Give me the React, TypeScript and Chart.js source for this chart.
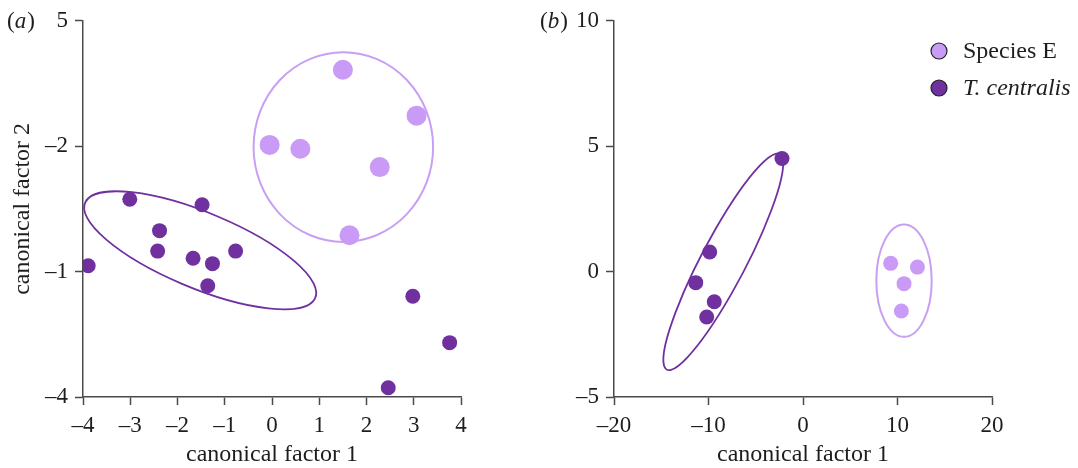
import React, { useEffect, useRef } from 'react';
import { Chart, registerables } from 'chart.js';

Chart.register(...registerables);

const FONT = "'Liberation Serif', 'Times New Roman', serif";
const DARK = '#7030a0';
const LIGHT = '#c99af6';
const LIGHT_LINE = '#c7a0f3';
const AXIS = '#4a4a4a';
const TEXT = '#1e1e1e';

// ---------- Panel (a) ----------
const aSpeciesEX = [1.50, 3.06, -0.05, 0.60, 2.28, 1.64];
const aSpeciesEY = [3.83, 2.73, 2.03, 1.94, 1.50, -0.13];
const aCentralisX = [-3.01, -1.48, -2.38, -2.42, -1.67, -1.26, -0.77, -1.36, -3.89, 2.98, 3.76, 2.46];
const aCentralisY = [0.73, 0.60, -0.02, -0.51, -0.68, -0.81, -0.51, -1.34, -0.86, -1.59, -2.70, -3.78];
const aXTicks = [-4, -3, -2, -1, 0, 1, 2, 3, 4];
const aXTickLabels = ['–4', '–3', '–2', '–1', '0', '1', '2', '3', '4'];
const aYTicks = [-4, -1, 2, 5];
const aYTickLabels = ['–4', '–1', '–2', '5'];
// ellipse: [centre x, centre y, semi-axis a, semi-axis b, angle (deg)]
const aEllipseSpeciesE = [1.51, 1.98, 1.90, 2.27, 0];
const aEllipseCentralis = [-1.52, -0.49, 2.69, 0.89, -25.6];

// ---------- Panel (b) ----------
const bSpeciesEX = [9.28, 12.11, 10.69, 10.41];
const bSpeciesEY = [0.33, 0.18, -0.48, -1.57];
const bCentralisX = [-2.22, -9.87, -11.35, -9.39, -10.19];
const bCentralisY = [4.51, 0.78, -0.44, -1.20, -1.81];
const bXTicks = [-20, -10, 0, 10, 20];
const bXTickLabels = ['–20', '–10', '0', '10', '20'];
const bYTicks = [-5, 0, 5, 10];
const bYTickLabels = ['–5', '0', '5', '10'];
const bEllipseSpeciesE = [10.69, -0.36, 2.93, 2.24, 0];
const bEllipseCentralis = [-8.44, 0.39, 7.51, 1.54, 33.3];

const legendLabels = ['Species E', 'T. centralis'];

const toPts = (xs: number[], ys: number[]) => xs.map((x, i) => ({ x, y: ys[i] }));

const ellipsePlugin = {
  id: 'ellipses',
  beforeDatasetsDraw(chart: any, _args: any, opts: any) {
    const { ctx } = chart;
    const xs = chart.scales.x;
    const ys = chart.scales.y;
    (opts.items || []).forEach((it: any) => {
      const [cx, cy, ra, rb, ang] = it.params;
      const px = xs.getPixelForValue(cx);
      const py = ys.getPixelForValue(cy);
      const sx = xs.getPixelForValue(cx + 1) - px;
      const sy = py - ys.getPixelForValue(cy + 1);
      ctx.save();
      ctx.translate(px, py);
      ctx.scale(sx, -sy);
      ctx.rotate((ang * Math.PI) / 180);
      ctx.beginPath();
      ctx.ellipse(0, 0, ra, rb, 0, 0, Math.PI * 2);
      ctx.restore();
      ctx.save();
      ctx.strokeStyle = it.color;
      ctx.lineWidth = it.width;
      ctx.stroke();
      ctx.restore();
    });
  },
};

const textPlugin = {
  id: 'panelText',
  afterDraw(chart: any, _args: any, opts: any) {
    const { ctx } = chart;
    ctx.save();
    ctx.fillStyle = TEXT;
    ctx.textBaseline = 'alphabetic';
    if (opts.letter) {
      let x = opts.letterX;
      const y = opts.letterY;
      const normal = `23px ${FONT}`;
      const italic = `italic 23px ${FONT}`;
      ctx.textAlign = 'left';
      ctx.font = normal;
      ctx.fillText('(', x, y);
      x += ctx.measureText('(').width;
      ctx.font = italic;
      ctx.fillText(opts.letter, x, y);
      x += ctx.measureText(opts.letter).width + 1;
      ctx.font = normal;
      ctx.fillText(')', x, y);
    }
    if (opts.legend) {
      const items = [
        { label: legendLabels[0], color: LIGHT, italic: false },
        { label: legendLabels[1], color: DARK, italic: true },
      ];
      items.forEach((it, i) => {
        const cy = opts.legendY + i * opts.legendGap;
        ctx.beginPath();
        ctx.arc(opts.legendX, cy, 8, 0, Math.PI * 2);
        ctx.fillStyle = it.color;
        ctx.fill();
        ctx.lineWidth = 1.2;
        ctx.strokeStyle = '#222';
        ctx.stroke();
        ctx.fillStyle = TEXT;
        ctx.font = `${it.italic ? 'italic ' : ''}24px ${FONT}`;
        ctx.textAlign = 'left';
        ctx.textBaseline = 'middle';
        ctx.fillText(it.label, opts.legendX + 24, cy + 1);
      });
    }
    ctx.restore();
  },
};

function axis(
  min: number,
  max: number,
  tickVals: number[],
  tickLabels: string[],
  isX: boolean,
  fit: number,
  title?: string,
  titlePad?: any
) {
  return {
    type: 'linear',
    min,
    max,
    afterBuildTicks: (s: any) => {
      s.ticks = tickVals.map((v) => ({ value: v }));
    },
    afterFit: (s: any) => {
      if (isX) s.height = fit;
      else s.width = fit;
    },
    ticks: {
      callback: (v: number) => {
        const i = tickVals.indexOf(v);
        return i >= 0 ? tickLabels[i] : '';
      },
      color: TEXT,
      font: { family: FONT, size: 23 },
      padding: 7,
      autoSkip: false,
      maxRotation: 0,
      minRotation: 0,
    },
    grid: {
      drawOnChartArea: false,
      drawTicks: true,
      tickLength: 8,
      tickColor: AXIS,
      tickWidth: 1.5,
    },
    border: { display: true, color: AXIS, width: 1.5 },
    title: title
      ? { display: true, text: title, color: TEXT, font: { family: FONT, size: 24 }, padding: titlePad }
      : { display: false },
  };
}

function makeConfig(panel: 'a' | 'b'): any {
  const isA = panel === 'a';
  const sE = isA ? toPts(aSpeciesEX, aSpeciesEY) : toPts(bSpeciesEX, bSpeciesEY);
  const tc = isA ? toPts(aCentralisX, aCentralisY) : toPts(bCentralisX, bCentralisY);
  return {
    type: 'scatter',
    data: {
      datasets: [
        {
          label: legendLabels[0],
          data: sE,
          backgroundColor: LIGHT,
          borderWidth: 0,
          pointRadius: isA ? 10 : 7.5,
          pointHoverRadius: isA ? 10 : 7.5,
        },
        {
          label: legendLabels[1],
          data: tc,
          backgroundColor: DARK,
          borderWidth: 0,
          pointRadius: 7.5,
          pointHoverRadius: 7.5,
        },
      ],
    },
    options: {
      responsive: false,
      animation: false,
      events: [],
      layout: {
        padding: isA ? { left: 0, top: 20, right: 79, bottom: 0 } : { left: 0, top: 20, right: 86, bottom: 0 },
      },
      scales: {
        x: isA
          ? axis(-4, 4, aXTicks, aXTickLabels, true, 71, 'canonical factor 1', { top: 0, bottom: -1 })
          : axis(-20, 20, bXTicks, bXTickLabels, true, 71, 'canonical factor 1', { top: 0, bottom: -1 }),
        y: isA
          ? axis(-4, 5, aYTicks, aYTickLabels, false, 83, 'canonical factor 2', { top: 8, bottom: 0 })
          : axis(-5, 10, bYTicks, bYTickLabels, false, 74),
      },
      plugins: {
        legend: { display: false },
        tooltip: { enabled: false },
        ellipses: {
          items: isA
            ? [
                { params: aEllipseSpeciesE, color: LIGHT_LINE, width: 2 },
                { params: aEllipseCentralis, color: DARK, width: 1.8 },
              ]
            : [
                { params: bEllipseSpeciesE, color: LIGHT_LINE, width: 2 },
                { params: bEllipseCentralis, color: DARK, width: 1.8 },
              ],
        },
        panelText: isA
          ? { letter: 'a', letterX: 7, letterY: 28 }
          : { letter: 'b', letterX: 0, letterY: 28, legend: true, legendX: 399, legendY: 51, legendGap: 37 },
      },
    },
    plugins: [ellipsePlugin, textPlugin],
  };
}

function Panel({ panel, left, width }: { panel: 'a' | 'b'; left: number; width: number }) {
  const ref = useRef<HTMLCanvasElement>(null);
  useEffect(() => {
    if (!ref.current) return;
    const chart = new Chart(ref.current, makeConfig(panel));
    return () => chart.destroy();
  }, [panel]);
  return (
    <canvas
      ref={ref}
      width={width}
      height={468}
      style={{ position: 'absolute', left, top: 0, width, height: 468, display: 'block' }}
    />
  );
}

export default function App() {
  return (
    <div style={{ position: 'fixed', left: 0, top: 0, width: 1078, height: 468, background: '#fff' }}>
      <Panel panel="a" left={0} width={540} />
      <Panel panel="b" left={540} width={538} />
    </div>
  );
}
